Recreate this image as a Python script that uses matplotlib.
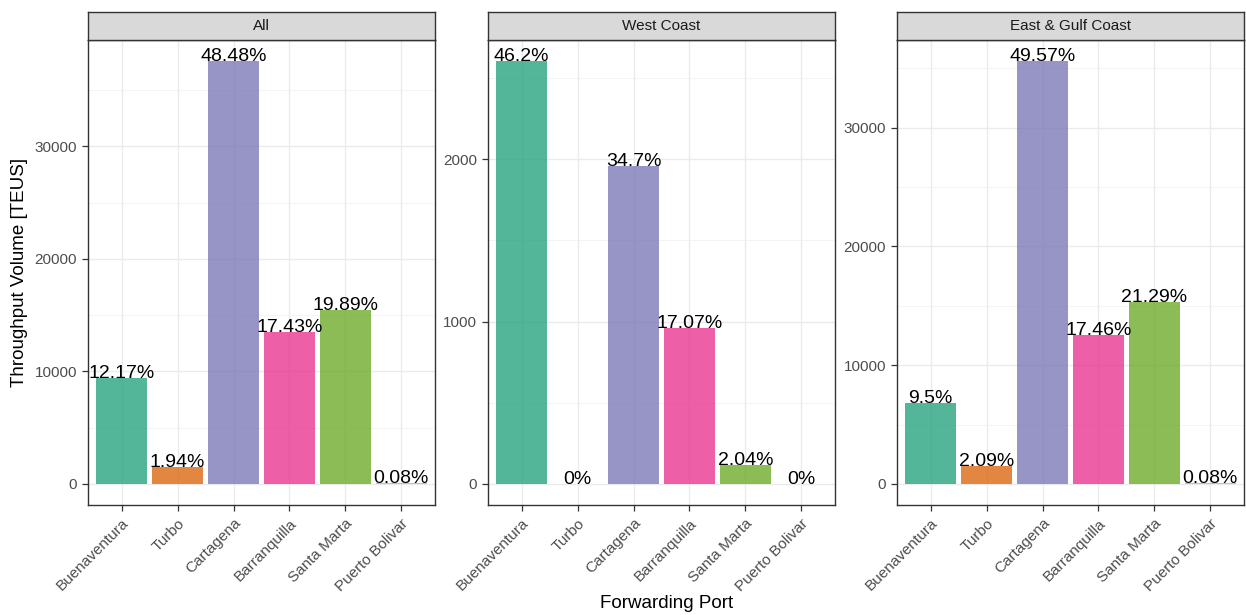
import matplotlib
matplotlib.use("Agg")
import matplotlib.pyplot as plt
from matplotlib.ticker import MultipleLocator

plt.rcParams['font.family'] = ['Liberation Sans', 'DejaVu Sans']

# forwarding ports (x order) and Dark2 fills
ports = ['Buenaventura', 'Turbo', 'Cartagena', 'Barranquilla', 'Santa Marta', 'Puerto Bolivar']
colors = ['#1B9E77', '#D95F02', '#7570B3', '#E7298A', '#66A61E', '#E6AB02']

# throughput volume per port [TEU]
teu_all = [9432, 1503, 37568, 13508, 15415, 62]
teu_west = [2604, 0, 1955, 962, 115, 0]
teu_east = [6828, 1503, 35613, 12546, 15300, 62]

# share of facet total [%]
pct_all = [12.17, 1.94, 48.48, 17.43, 19.89, 0.08]
pct_west = [46.2, 0, 34.7, 17.07, 2.04, 0]
pct_east = [9.5, 2.09, 49.57, 17.46, 21.29, 0.08]

facets = ['All', 'West Coast', 'East & Gulf Coast']
facet_teu = [teu_all, teu_west, teu_east]
facet_pct = [pct_all, pct_west, pct_east]
facet_step = [10000, 1000, 10000]

W, H = 1246, 615
fig = plt.figure(figsize=(W / 100, H / 100), dpi=100)

panel_left = [88, 488, 897]
panel_w = 347
panel_top, panel_bot = 40, 505
strip_top = 12

grey20 = '#333333'

for i, name in enumerate(facets):
    x0 = panel_left[i]
    ax = fig.add_axes([x0 / W, 1 - panel_bot / H, panel_w / W, (panel_bot - panel_top) / H])
    vals = facet_teu[i]
    pos = list(range(1, len(ports) + 1))

    ax.bar(pos, vals, width=0.9, color=colors, alpha=0.75, zorder=2)
    for p, v, s in zip(pos, vals, facet_pct[i]):
        ax.text(p, v, f'{s:g}%', ha='center', va='baseline', fontsize=14,
                color='black', zorder=3)

    ymax = max(vals)
    ax.set_ylim(-0.05 * ymax, 1.05 * ymax)
    ax.set_xlim(0.4, len(ports) + 0.6)

    step = facet_step[i]
    ax.yaxis.set_major_locator(MultipleLocator(step))
    ax.yaxis.set_minor_locator(MultipleLocator(step / 2))
    ax.set_xticks(pos)
    ax.set_xticklabels(ports, rotation=45, ha='right', va='top',
                       rotation_mode='anchor', fontsize=11, color='#4D4D4D')
    ax.tick_params(axis='y', labelsize=11, labelcolor='#4D4D4D')
    ax.tick_params(which='major', length=4.5, width=0.9, color=grey20)
    ax.tick_params(which='minor', length=0)

    ax.grid(True, which='major', color='#EBEBEB', linewidth=1.0, zorder=0)
    ax.grid(True, which='minor', axis='y', color='#F2F2F2', linewidth=0.6, zorder=0)
    ax.set_axisbelow(True)
    for sp in ax.spines.values():
        sp.set_color(grey20)
        sp.set_linewidth(1.0)

    # facet strip
    sax = fig.add_axes([x0 / W, 1 - panel_top / H, panel_w / W, (panel_top - strip_top) / H])
    sax.set_facecolor('#D9D9D9')
    sax.set_xticks([])
    sax.set_yticks([])
    for sp in sax.spines.values():
        sp.set_color(grey20)
        sp.set_linewidth(1.0)
    sax.text(0.5, 0.5, name, ha='center', va='center', fontsize=11,
             color='#1A1A1A', transform=sax.transAxes)

fig.text(667 / W, 1 - 603 / H, 'Forwarding Port', ha='center', va='center', fontsize=13.5)
fig.text(20 / W, 1 - 272 / H, 'Throughput Volume [TEUS]', ha='center', va='center',
         rotation=90, fontsize=13.5)

fig.savefig('out.png', dpi=100)
